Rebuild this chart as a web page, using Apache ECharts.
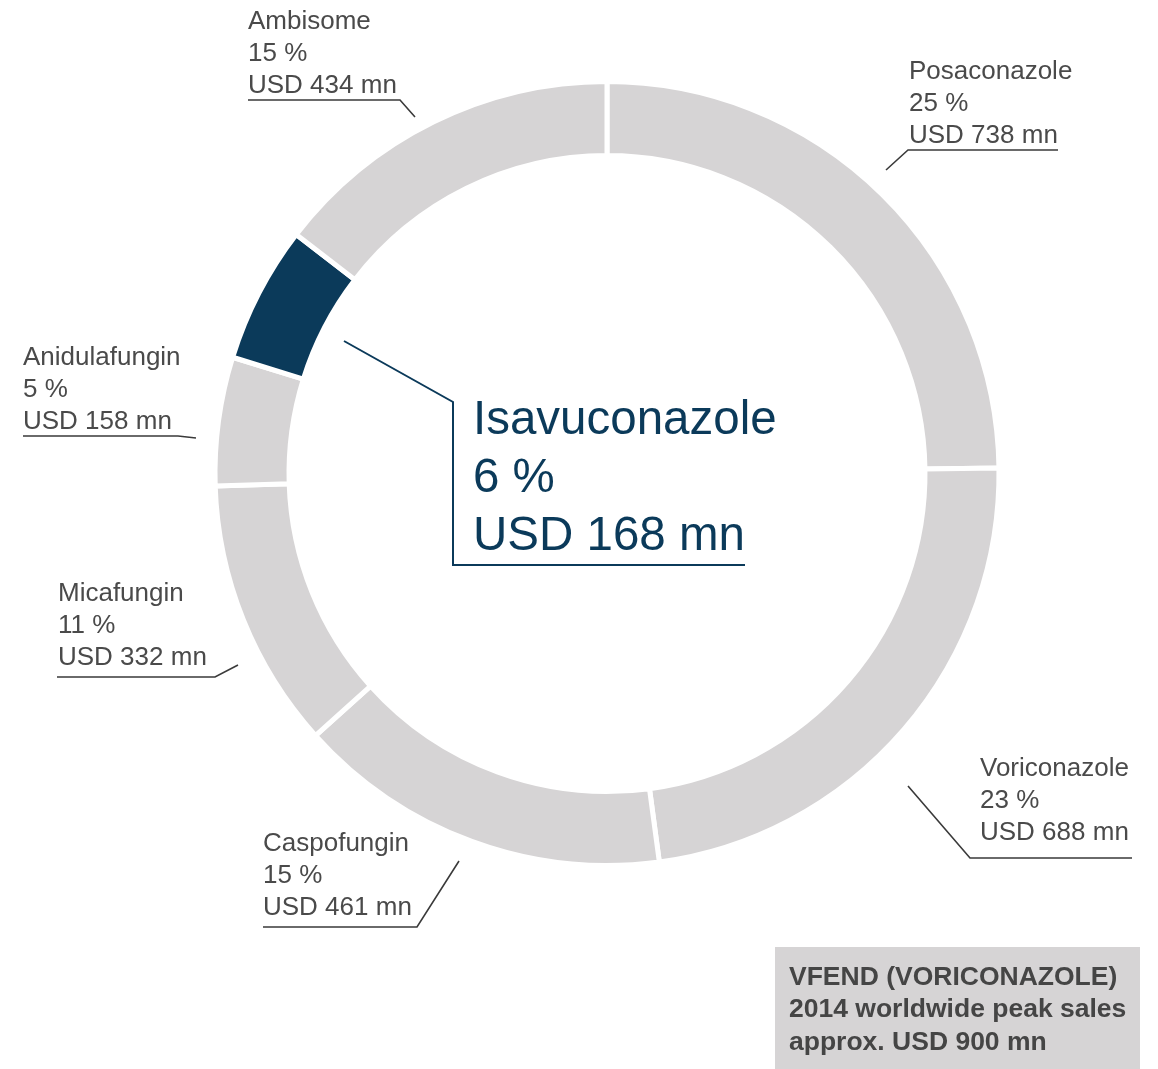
<!DOCTYPE html>
<html>
<head>
<meta charset="utf-8">
<script src="https://cdn.jsdelivr.net/npm/echarts@6/dist/echarts.min.js"></script>
<style>
  html, body { margin: 0; padding: 0; background: #fff; }
  #chart { width: 1158px; height: 1069px; }
</style>
</head>
<body>
<div id="chart"></div>
<script>
// data, clockwise from 12 o'clock
const names = ['Posaconazole', 'Voriconazole', 'Caspofungin', 'Micafungin', 'Anidulafungin', 'Isavuconazole', 'Ambisome'];
const sales = [738, 688, 461, 332, 158, 168, 434];
const shares = ['25 %', '23 %', '15 %', '11 %', '5 %', '6 %', '15 %'];
const highlight = 'Isavuconazole';
const noteLines = ['VFEND (VORICONAZOLE)', '2014 worldwide peak sales', 'approx. USD 900 mn'];

// label placement: text anchor (left x, bottom y) and leader line points
const labelPos = [
  { x: 909, y: 152, line: [[886, 170], [908, 150], [1058, 150]] },
  { x: 980, y: 849, line: [[908, 786], [970, 858], [1132, 858]] },
  { x: 263, y: 924, line: [[459, 861], [417, 927], [263, 927]] },
  { x: 58, y: 674, line: [[238, 665], [215, 677], [57, 677]] },
  { x: 23, y: 438, line: [[196, 438], [178, 436], [23, 436]] },
  { x: 473, y: 566, line: [[344, 341], [453, 402], [453, 565], [745, 565]] },
  { x: 248, y: 102, line: [[415, 117], [400, 100], [248, 100]] }
];

const GREY = '#d6d4d5';
const NAVY = '#0b3a5a';
const TEXT = '#4a4a4a';
const FONT = '"Liberation Sans", Arial, sans-serif';

const chart = echarts.init(document.getElementById('chart'));

const data = names.map((n, i) => ({
  name: n,
  value: sales[i],
  itemStyle: { color: n === highlight ? NAVY : GREY },
  labelLine: {
    lineStyle: n === highlight ? { color: NAVY, width: 2 } : { color: '#3a3a3a', width: 1.6 }
  }
}));

const option = {
  backgroundColor: '#fff',
  animation: false,
  series: [
    {
      type: 'pie',
      center: [607, 473.5],
      radius: [318, 392],
      startAngle: 90,
      clockwise: true,
      avoidLabelOverlap: false,
      itemStyle: {
        borderColor: '#fff',
        borderWidth: 5
      },
      label: {
        show: true,
        position: 'outside',
        fontFamily: FONT,
        formatter: (p) => {
          const i = p.dataIndex;
          const k = p.name === highlight ? 'b' : 'a';
          return '{' + k + '|' + p.name + '}\n{' + k + '|' + shares[i] + '}\n{' + k + '|USD ' + sales[i] + ' mn}';
        },
        rich: {
          a: { fontSize: 26, lineHeight: 32, color: TEXT, fontFamily: FONT },
          b: { fontSize: 47.5, lineHeight: 58, color: NAVY, fontFamily: FONT }
        }
      },
      labelLine: { show: true, smooth: false },
      labelLayout: (params) => {
        const l = labelPos[params.dataIndex];
        return {
          x: l.x,
          y: l.y,
          align: 'left',
          verticalAlign: 'bottom',
          labelLinePoints: l.line
        };
      },
      emphasis: { disabled: true },
      data: data
    }
  ],
  graphic: [
    {
      type: 'rect',
      left: 775,
      top: 947,
      shape: { width: 365, height: 122 },
      style: { fill: GREY }
    },
    {
      type: 'text',
      left: 789,
      top: 961,
      style: {
        text: noteLines.join('\n'),
        font: 'bold 26.5px ' + FONT,
        lineHeight: 32.5,
        fill: '#454545'
      }
    }
  ]
};

chart.setOption(option);
</script>
</body>
</html>
